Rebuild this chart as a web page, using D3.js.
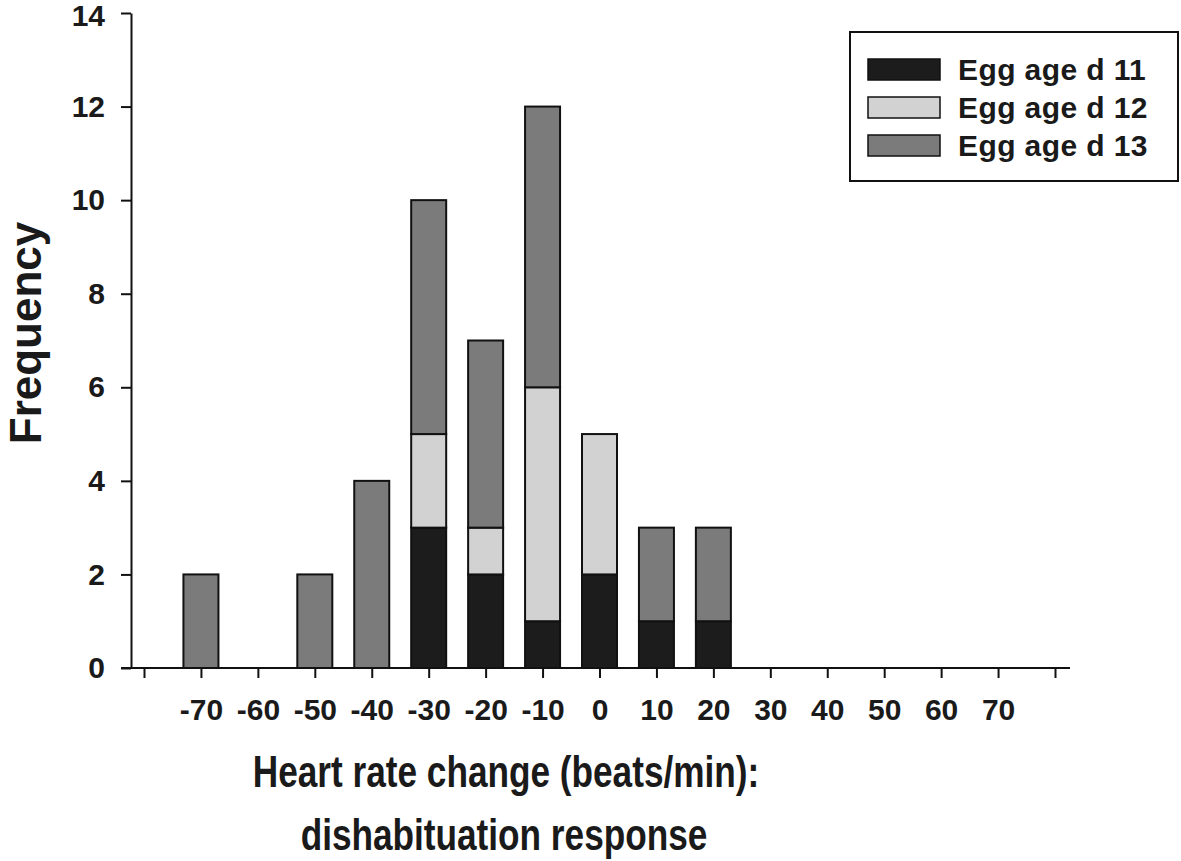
<!DOCTYPE html>
<html>
<head>
<meta charset="utf-8">
<script src="https://cdn.jsdelivr.net/npm/d3@7"></script>
<style>
  html, body { margin: 0; padding: 0; background: #fff; }
  svg { display: block; }
  text { font-family: "Liberation Sans", Arial, Helvetica, sans-serif; font-weight: bold; fill: #1a1a1a; }
</style>
</head>
<body>
<svg id="chart" width="1181" height="861"></svg>
<script>
// ---- data ----
const categories = [-70, -60, -50, -40, -30, -20, -10, 0, 10, 20, 30, 40, 50, 60, 70];
const seriesNames = ["Egg age d 11", "Egg age d 12", "Egg age d 13"];
const d11 = [0, 0, 0, 0, 3, 2, 1, 2, 1, 1, 0, 0, 0, 0, 0];
const d12 = [0, 0, 0, 0, 2, 1, 5, 3, 0, 0, 0, 0, 0, 0, 0];
const d13 = [2, 0, 2, 4, 5, 4, 6, 0, 2, 2, 0, 0, 0, 0, 0];
const xTickValues = [-80, -70, -60, -50, -40, -30, -20, -10, 0, 10, 20, 30, 40, 50, 60, 70, 80];
const yTickValues = [0, 2, 4, 6, 8, 10, 12, 14];
const xTitle = ["Heart rate change (beats/min):", "dishabituation response"];
const yTitle = "Frequency";
const colors = ["#1c1c1c", "#d2d2d2", "#7b7b7b"];

const table = categories.map((c, i) => ({ cat: c, d11: d11[i], d12: d12[i], d13: d13[i] }));
const keys = ["d11", "d12", "d13"];

const svg = d3.select("#chart");
const x = d3.scaleLinear().domain([-80, 80]).range([144, 1055]);
const y = d3.scaleLinear().domain([0, 14]).range([668, 13]);
const barW = 35;

// bars
const stack = d3.stack().keys(keys)(table);
stack.forEach((layer, li) => {
  svg.append("g")
    .selectAll("rect")
    .data(layer.filter(d => d[1] - d[0] > 0))
    .join("rect")
    .attr("x", d => x(d.data.cat) - barW / 2)
    .attr("width", barW)
    .attr("y", d => y(d[1]))
    .attr("height", d => y(d[0]) - y(d[1]))
    .attr("fill", colors[li])
    .attr("stroke", "#111")
    .attr("stroke-width", 2);
});

// y axis
const yAxis = d3.axisLeft(y).tickValues(yTickValues).tickSize(10).tickPadding(16).tickSizeOuter(0)
  .tickFormat(d => String(d));
const gy = svg.append("g").attr("transform", "translate(131,0)").call(yAxis);
gy.select(".domain").attr("stroke", "#111").attr("stroke-width", 2);
gy.selectAll(".tick line").attr("stroke", "#111").attr("stroke-width", 2);
gy.selectAll(".tick text").attr("font-size", 30).attr("fill", "#1a1a1a")
  .attr("font-family", "Liberation Sans, Arial, sans-serif").attr("font-weight", "bold");
gy.selectAll(".tick").filter(d => d === 14).select("text").attr("dy", "0.42em");

// x axis
const xAxis = d3.axisBottom(x).tickValues(xTickValues).tickSize(10).tickPadding(21).tickSizeOuter(0)
  .tickFormat(d => (d === -80 || d === 80) ? "" : String(d));
const gx = svg.append("g").attr("transform", "translate(0,668)").call(xAxis);
gx.select(".domain").attr("d", "M121,0H1070").attr("stroke", "#111").attr("stroke-width", 2);
gx.selectAll(".tick line").attr("stroke", "#111").attr("stroke-width", 2);
gx.selectAll(".tick text").attr("font-size", 30).attr("fill", "#1a1a1a")
  .attr("font-family", "Liberation Sans, Arial, sans-serif").attr("font-weight", "bold");

// axis titles
svg.append("text")
  .attr("transform", "translate(506,787) scale(0.8,1)")
  .attr("text-anchor", "middle").attr("font-size", 44)
  .text(xTitle[0]);
svg.append("text")
  .attr("transform", "translate(504,850) scale(0.8,1)")
  .attr("text-anchor", "middle").attr("font-size", 44)
  .text(xTitle[1]);
svg.append("text")
  .attr("transform", "translate(41,333) rotate(-90)")
  .attr("text-anchor", "middle").attr("font-size", 44)
  .text(yTitle);

// legend
const lg = svg.append("g");
lg.append("rect").attr("x", 850).attr("y", 32).attr("width", 328).attr("height", 149)
  .attr("fill", "#fff").attr("stroke", "#111").attr("stroke-width", 2);
seriesNames.forEach((name, i) => {
  const yy = 59 + i * 38;
  lg.append("rect").attr("x", 868).attr("y", yy).attr("width", 72).attr("height", 21)
    .attr("fill", colors[i]).attr("stroke", "#111").attr("stroke-width", 1.5);
  lg.append("text").attr("x", 958).attr("y", yy + 21).attr("font-size", 30)
    .attr("letter-spacing", 0.4).text(name);
});
</script>
</body>
</html>
